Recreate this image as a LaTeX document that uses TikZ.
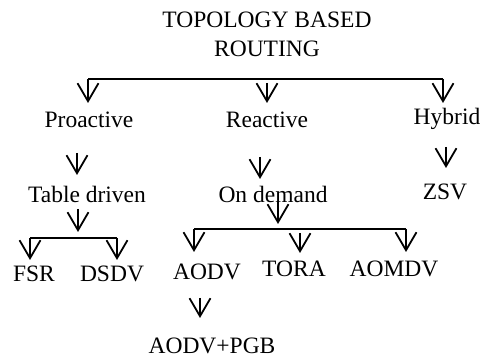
\documentclass[tikz,border=0pt]{standalone}
\usepackage{fontspec}
\setmainfont{Liberation Serif}
\usetikzlibrary{arrows.meta}
\begin{document}
\begin{tikzpicture}[x=1pt,y=-1pt,
  lbl/.style={anchor=base,inner sep=0pt,font=\fontsize{23.5}{28}\selectfont},
  arr/.style={line width=1.8pt,-{Straight Barb[length=18pt,width=21pt,line width=1.8pt]}},
  barline/.style={line width=1.8pt}]
\useasboundingbox (0,0) rectangle (483,358);
% texts
\node[lbl] (t1) at (267,28) {TOPOLOGY BASED};
\node[lbl] (t2) at (267,57) {ROUTING};
\node[lbl] (pro) at (89,128) {Proactive};
\node[lbl] (rea) at (267,128) {Reactive};
\node[lbl] (hyb) at (447,125) {Hybrid};
\node[lbl] (tab) at (87,203) {Table driven};
\node[lbl] (ond) at (273,203) {On demand};
\node[lbl] (zsv) at (445,200) {ZSV};
\node[lbl] (fsr) at (34,282) {FSR};
\node[lbl] (dsdv) at (112,282) {DSDV};
\node[lbl] (aodv) at (207,280) {AODV};
\node[lbl] (tora) at (294,277) {TORA};
\node[lbl] (aomdv) at (394,277) {AOMDV};
\node[lbl] (pgb) at (212,354) {AODV+PGB};
% coordinates
\coordinate (b1l) at (88,79);
\coordinate (b1r) at (443,79);
\coordinate (b1lt) at (88,103);
\coordinate (b1rt) at (443,103);
\coordinate (m1s) at (267,83);
\coordinate (m1t) at (267,103);
\coordinate (p1s) at (77,153);
\coordinate (p1t) at (77,175);
\coordinate (r1s) at (260,157);
\coordinate (r1t) at (260,179);
\coordinate (h1s) at (446,147);
\coordinate (h1t) at (446,168);
\coordinate (ta1s) at (78,209);
\coordinate (ta1t) at (78,232);
\coordinate (b2l) at (30,238);
\coordinate (b2r) at (117,238);
\coordinate (b2lt) at (30,260);
\coordinate (b2rt) at (117,260);
\coordinate (o1s) at (278,201);
\coordinate (o1t) at (278,224);
\coordinate (b3l) at (194,229);
\coordinate (b3r) at (406,229);
\coordinate (b3lt) at (194,252);
\coordinate (b3rt) at (406,252);
\coordinate (m3s) at (300,233);
\coordinate (m3t) at (300,253);
\coordinate (a1s) at (200,298);
\coordinate (a1t) at (200,318);
% connectors
\draw[barline] (b1l) -- (b1r);
\draw[arr] (b1l) -- (b1lt);
\draw[arr] (b1r) -- (b1rt);
\draw[arr] (m1s) -- (m1t);
\draw[arr] (p1s) -- (p1t);
\draw[arr] (r1s) -- (r1t);
\draw[arr] (h1s) -- (h1t);
\draw[arr] (ta1s) -- (ta1t);
\draw[barline] (b2l) -- (b2r);
\draw[arr] (b2l) -- (b2lt);
\draw[arr] (b2r) -- (b2rt);
\draw[arr] (o1s) -- (o1t);
\draw[barline] (b3l) -- (b3r);
\draw[arr] (b3l) -- (b3lt);
\draw[arr] (b3r) -- (b3rt);
\draw[arr] (m3s) -- (m3t);
\draw[arr] (a1s) -- (a1t);
\end{tikzpicture}
\end{document}
